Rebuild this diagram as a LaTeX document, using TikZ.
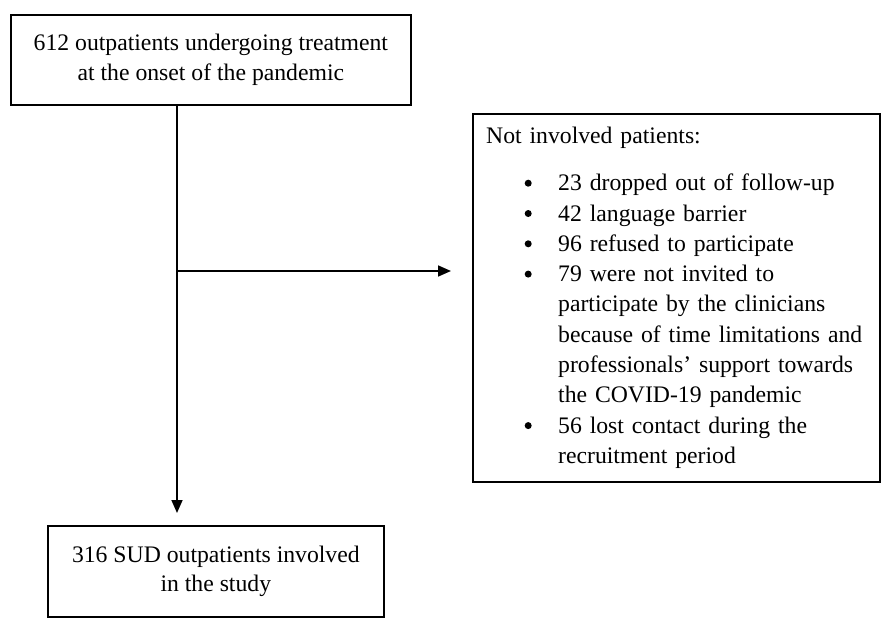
\documentclass[tikz,border=0pt]{standalone}
\usepackage{fontspec}
\setmainfont{Liberation Serif}
\usetikzlibrary{arrows.meta}
\newcommand\bulletlabel[1]{\hspace*{38.5pt}\raisebox{4pt}{\tikz\fill[black] (0,0) circle (3.5pt);}\hfill}
\tikzset{
  box/.style={draw=black, line width=1.7pt, align=center, inner sep=0pt},
  txt/.style={font=\fontsize{23.7}{29.5}\selectfont},
  conn/.style={line width=1.7pt, draw=black},
  arr/.style={conn, -{Triangle[length=13pt,width=11pt]}}
}
\begin{document}
\begin{tikzpicture}[x=1pt,y=-1pt]
\useasboundingbox (0,0) rectangle (886,624);
\node[box, txt, minimum width=400pt, minimum height=90pt, anchor=north west] (top) at (10,14)
  {612 outpatients undergoing treatment\\at the onset of the pandemic};
\node[box, txt, minimum width=336pt, minimum height=91pt, anchor=north west] (bottom) at (47,525)
  {316 SUD outpatients involved\\in the study};
\node[box, minimum width=407pt, minimum height=368pt, anchor=north west] (excl) at (472,113) {};
\node[txt, font=\fontsize{23.7}{30.3}\selectfont, align=left, text width=379pt, inner sep=0pt, anchor=base west] (excltext) at (486,143.3)
  {Not involved patients:\par\vspace{17.1pt}%
   \begin{list}{}{\setlength\leftmargin{72pt}\setlength\labelwidth{72pt}%
      \setlength\labelsep{0pt}\setlength\itemsep{0pt}\setlength\parsep{0pt}%
      \setlength\topsep{0pt}\setlength\partopsep{0pt}%
      \let\makelabel\bulletlabel}
   \item 23 dropped out of follow-up
   \item 42 language barrier
   \item 96 refused to participate
   \item 79 were not invited to participate by the clinicians because of time limitations and professionals' support towards the COVID-19 pandemic
   \item 56 lost contact during the recruitment period
   \end{list}};
\coordinate (split) at (177,271);
\coordinate (tipH) at (451,271);
\coordinate (tipV) at (177,513);
\draw[conn] (top.south -| split) -- (split);
\draw[arr] (split) -- (tipV);
\draw[arr] (split) -- (tipH);
\end{tikzpicture}
\end{document}
